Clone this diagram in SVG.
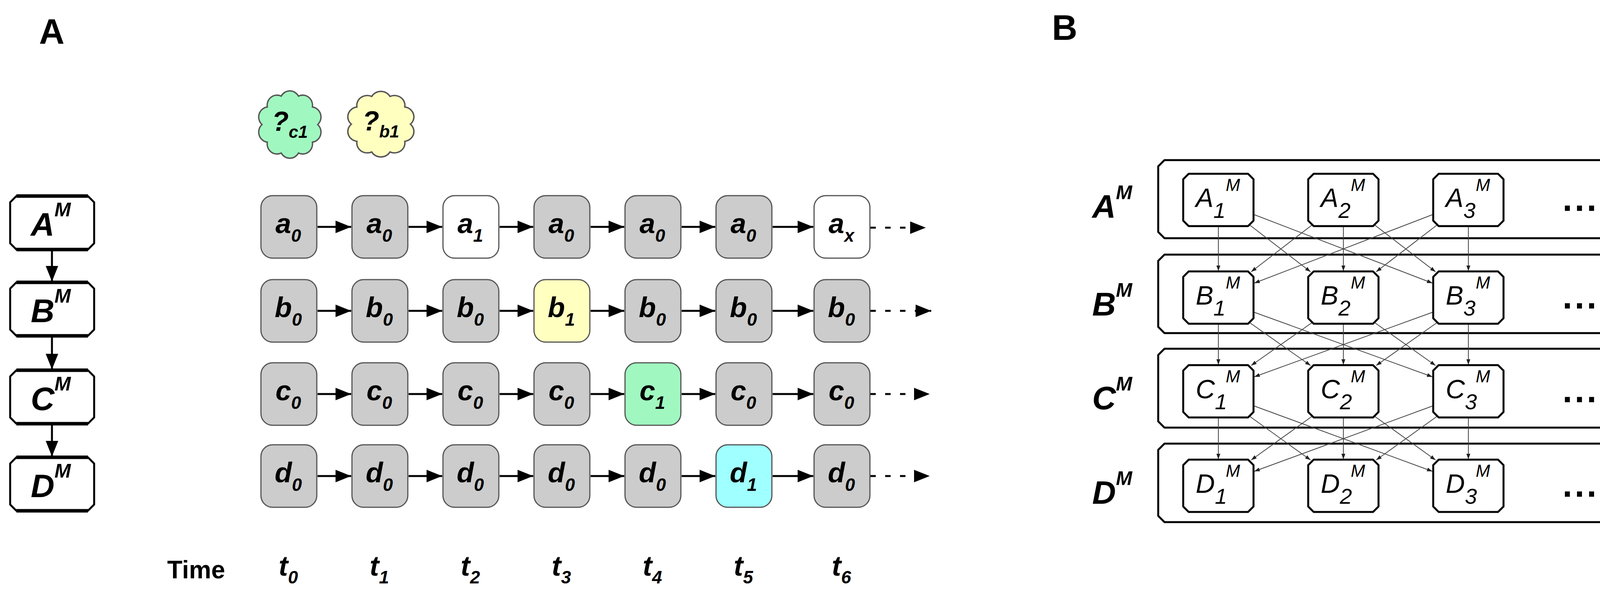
<svg xmlns="http://www.w3.org/2000/svg" width="4184" height="1539" viewBox="0 0 4184 1539">
<style>
.bi{font-family:"Liberation Sans",Arial,sans-serif;font-weight:bold;font-style:italic;fill:#000}
.b{font-family:"Liberation Sans",Arial,sans-serif;font-weight:bold;fill:#000}
.i{font-family:"Liberation Sans",Arial,sans-serif;font-style:italic;fill:#000}
.st{fill:#fff;stroke:#000;stroke-width:5;stroke-linejoin:round}
.nd{stroke:#555;stroke-width:3}
.g{fill:#cccccc}.w{fill:#ffffff}.y{fill:#ffffc0}.gr{fill:#a0f8c0}.cy{fill:#a0ffff}
.h{stroke:#000;stroke-width:5;fill:none;marker-end:url(#ah)}
.hd{stroke:#000;stroke-width:5;fill:none;stroke-dasharray:14 24;marker-end:url(#ah)}
.thin{stroke:#444;stroke-width:2;fill:none;marker-end:url(#as)}
</style>
<defs>
<marker id="ah" markerUnits="userSpaceOnUse" markerWidth="40" markerHeight="32" refX="40" refY="16" orient="auto"><path d="M0,0 L40,16 L0,32 Z" fill="#000"/></marker>
<marker id="as" markerUnits="userSpaceOnUse" markerWidth="14" markerHeight="10" refX="14" refY="5" orient="auto"><path d="M0,0 L14,5 L0,10 Z" fill="#222"/></marker>
<path id="cloud" d="M62,0 A22,22 0 0 1 50.2,38.2 A22,22 0 0 1 19.2,61.8 A22,22 0 0 1 -19.2,61.8 A22,22 0 0 1 -50.2,38.2 A22,22 0 0 1 -62,0 A22,22 0 0 1 -50.2,-38.2 A22,22 0 0 1 -19.2,-61.8 A22,22 0 0 1 19.2,-61.8 A22,22 0 0 1 50.2,-38.2 A22,22 0 0 1 62,0 Z"/>
</defs>

<text class="b" x="100" y="112" font-size="90">A</text>
<text class="b" x="2693" y="102" font-size="90">B</text>

<g id="AM"><path class="st" d="M42,502 H225 L241,518 V623 L225,639 H42 L26,623 V518 Z"/><path d="M42,502 H225 M42,639 H225" stroke="#000" stroke-width="9"/><text class="bi" x="130" y="604" font-size="84" text-anchor="middle">A<tspan font-size="50" dy="-50">M</tspan></text></g>
<g id="BM"><path class="st" d="M42,723 H225 L241,739 V844 L225,860 H42 L26,844 V739 Z"/><path d="M42,723 H225 M42,860 H225" stroke="#000" stroke-width="9"/><text class="bi" x="130" y="825" font-size="84" text-anchor="middle">B<tspan font-size="50" dy="-50">M</tspan></text></g>
<g id="CM"><path class="st" d="M42,948 H225 L241,964 V1069 L225,1085 H42 L26,1069 V964 Z"/><path d="M42,948 H225 M42,1085 H225" stroke="#000" stroke-width="9"/><text class="bi" x="130" y="1050" font-size="84" text-anchor="middle">C<tspan font-size="50" dy="-50">M</tspan></text></g>
<g id="DM"><path class="st" d="M42,1171 H225 L241,1187 V1292 L225,1308 H42 L26,1292 V1187 Z"/><path d="M42,1171 H225 M42,1308 H225" stroke="#000" stroke-width="9"/><text class="bi" x="130" y="1273" font-size="84" text-anchor="middle">D<tspan font-size="50" dy="-50">M</tspan></text></g>

<g id="cloud-c1"><use href="#cloud" transform="translate(742,319) scale(1.15,1.18)" fill="#a0f8c0" stroke="#555" stroke-width="3"/><text class="bi" x="742" y="335" font-size="70" text-anchor="middle">?<tspan font-size="44" dy="18">c1</tspan></text></g>
<g id="cloud-b1"><use href="#cloud" transform="translate(975,318) scale(1.22,1.15)" fill="#ffffc0" stroke="#555" stroke-width="3"/><text class="bi" x="975" y="334" font-size="70" text-anchor="middle">?<tspan font-size="44" dy="18">b1</tspan></text></g>

<g id="connectors-left">
<path class="h" d="M133,641 V721"/><path class="h" d="M133,862 V946"/><path class="h" d="M133,1087 V1169"/>
<path class="h" d="M813,581 H899"/><path class="h" d="M1046,581 H1132"/><path class="h" d="M1279,581 H1365"/><path class="h" d="M1512,581 H1598"/><path class="h" d="M1745,581 H1831"/><path class="h" d="M1978,581 H2082"/>
<path class="h" d="M813,796 H899"/><path class="h" d="M1046,796 H1132"/><path class="h" d="M1279,796 H1365"/><path class="h" d="M1512,796 H1598"/><path class="h" d="M1745,796 H1831"/><path class="h" d="M1978,796 H2082"/>
<path class="h" d="M813,1009 H899"/><path class="h" d="M1046,1009 H1132"/><path class="h" d="M1279,1009 H1365"/><path class="h" d="M1512,1009 H1598"/><path class="h" d="M1745,1009 H1831"/><path class="h" d="M1978,1009 H2082"/>
<path class="h" d="M813,1219 H899"/><path class="h" d="M1046,1219 H1132"/><path class="h" d="M1279,1219 H1365"/><path class="h" d="M1512,1219 H1598"/><path class="h" d="M1745,1219 H1831"/><path class="h" d="M1978,1219 H2082"/>
<path class="hd" d="M2228,583 H2370"/>
<path class="hd" d="M2228,796 H2384"/>
<path class="hd" d="M2228,1009 H2380"/>
<path class="hd" d="M2228,1219 H2380"/>
</g>

<g id="a-row">
<rect class="nd g" x="668" y="501" width="143" height="160" rx="30"/><text class="bi" x="738" y="597" font-size="72" text-anchor="middle">a<tspan font-size="46" dy="22">0</tspan></text>
<rect class="nd g" x="901" y="501" width="143" height="160" rx="30"/><text class="bi" x="971" y="597" font-size="72" text-anchor="middle">a<tspan font-size="46" dy="22">0</tspan></text>
<rect class="nd w" x="1134" y="501" width="143" height="160" rx="30"/><text class="bi" x="1204" y="597" font-size="72" text-anchor="middle">a<tspan font-size="46" dy="22">1</tspan></text>
<rect class="nd g" x="1367" y="501" width="143" height="160" rx="30"/><text class="bi" x="1437" y="597" font-size="72" text-anchor="middle">a<tspan font-size="46" dy="22">0</tspan></text>
<rect class="nd g" x="1600" y="501" width="143" height="160" rx="30"/><text class="bi" x="1670" y="597" font-size="72" text-anchor="middle">a<tspan font-size="46" dy="22">0</tspan></text>
<rect class="nd g" x="1833" y="501" width="143" height="160" rx="30"/><text class="bi" x="1903" y="597" font-size="72" text-anchor="middle">a<tspan font-size="46" dy="22">0</tspan></text>
<rect class="nd w" x="2084" y="501" width="143" height="160" rx="30"/><text class="bi" x="2154" y="597" font-size="72" text-anchor="middle">a<tspan font-size="46" dy="22">x</tspan></text>
</g>
<g id="b-row">
<rect class="nd g" x="668" y="716" width="143" height="160" rx="30"/><text class="bi" x="738" y="812" font-size="72" text-anchor="middle">b<tspan font-size="46" dy="22">0</tspan></text>
<rect class="nd g" x="901" y="716" width="143" height="160" rx="30"/><text class="bi" x="971" y="812" font-size="72" text-anchor="middle">b<tspan font-size="46" dy="22">0</tspan></text>
<rect class="nd g" x="1134" y="716" width="143" height="160" rx="30"/><text class="bi" x="1204" y="812" font-size="72" text-anchor="middle">b<tspan font-size="46" dy="22">0</tspan></text>
<rect class="nd y" x="1367" y="716" width="143" height="160" rx="30"/><text class="bi" x="1437" y="812" font-size="72" text-anchor="middle">b<tspan font-size="46" dy="22">1</tspan></text>
<rect class="nd g" x="1600" y="716" width="143" height="160" rx="30"/><text class="bi" x="1670" y="812" font-size="72" text-anchor="middle">b<tspan font-size="46" dy="22">0</tspan></text>
<rect class="nd g" x="1833" y="716" width="143" height="160" rx="30"/><text class="bi" x="1903" y="812" font-size="72" text-anchor="middle">b<tspan font-size="46" dy="22">0</tspan></text>
<rect class="nd g" x="2084" y="716" width="143" height="160" rx="30"/><text class="bi" x="2154" y="812" font-size="72" text-anchor="middle">b<tspan font-size="46" dy="22">0</tspan></text>
</g>
<g id="c-row">
<rect class="nd g" x="668" y="929" width="143" height="160" rx="30"/><text class="bi" x="738" y="1025" font-size="72" text-anchor="middle">c<tspan font-size="46" dy="22">0</tspan></text>
<rect class="nd g" x="901" y="929" width="143" height="160" rx="30"/><text class="bi" x="971" y="1025" font-size="72" text-anchor="middle">c<tspan font-size="46" dy="22">0</tspan></text>
<rect class="nd g" x="1134" y="929" width="143" height="160" rx="30"/><text class="bi" x="1204" y="1025" font-size="72" text-anchor="middle">c<tspan font-size="46" dy="22">0</tspan></text>
<rect class="nd g" x="1367" y="929" width="143" height="160" rx="30"/><text class="bi" x="1437" y="1025" font-size="72" text-anchor="middle">c<tspan font-size="46" dy="22">0</tspan></text>
<rect class="nd gr" x="1600" y="929" width="143" height="160" rx="30"/><text class="bi" x="1670" y="1025" font-size="72" text-anchor="middle">c<tspan font-size="46" dy="22">1</tspan></text>
<rect class="nd g" x="1833" y="929" width="143" height="160" rx="30"/><text class="bi" x="1903" y="1025" font-size="72" text-anchor="middle">c<tspan font-size="46" dy="22">0</tspan></text>
<rect class="nd g" x="2084" y="929" width="143" height="160" rx="30"/><text class="bi" x="2154" y="1025" font-size="72" text-anchor="middle">c<tspan font-size="46" dy="22">0</tspan></text>
</g>
<g id="d-row">
<rect class="nd g" x="668" y="1139" width="143" height="160" rx="30"/><text class="bi" x="738" y="1235" font-size="72" text-anchor="middle">d<tspan font-size="46" dy="22">0</tspan></text>
<rect class="nd g" x="901" y="1139" width="143" height="160" rx="30"/><text class="bi" x="971" y="1235" font-size="72" text-anchor="middle">d<tspan font-size="46" dy="22">0</tspan></text>
<rect class="nd g" x="1134" y="1139" width="143" height="160" rx="30"/><text class="bi" x="1204" y="1235" font-size="72" text-anchor="middle">d<tspan font-size="46" dy="22">0</tspan></text>
<rect class="nd g" x="1367" y="1139" width="143" height="160" rx="30"/><text class="bi" x="1437" y="1235" font-size="72" text-anchor="middle">d<tspan font-size="46" dy="22">0</tspan></text>
<rect class="nd g" x="1600" y="1139" width="143" height="160" rx="30"/><text class="bi" x="1670" y="1235" font-size="72" text-anchor="middle">d<tspan font-size="46" dy="22">0</tspan></text>
<rect class="nd cy" x="1833" y="1139" width="143" height="160" rx="30"/><text class="bi" x="1903" y="1235" font-size="72" text-anchor="middle">d<tspan font-size="46" dy="22">1</tspan></text>
<rect class="nd g" x="2084" y="1139" width="143" height="160" rx="30"/><text class="bi" x="2154" y="1235" font-size="72" text-anchor="middle">d<tspan font-size="46" dy="22">0</tspan></text>
</g>

<g id="time-axis">
<text class="b" x="428" y="1481" font-size="64">Time</text>
<text class="bi" x="738" y="1474" font-size="72" text-anchor="middle">t<tspan font-size="46" dy="20">0</tspan></text>
<text class="bi" x="971" y="1474" font-size="72" text-anchor="middle">t<tspan font-size="46" dy="20">1</tspan></text>
<text class="bi" x="1204" y="1474" font-size="72" text-anchor="middle">t<tspan font-size="46" dy="20">2</tspan></text>
<text class="bi" x="1437" y="1474" font-size="72" text-anchor="middle">t<tspan font-size="46" dy="20">3</tspan></text>
<text class="bi" x="1670" y="1474" font-size="72" text-anchor="middle">t<tspan font-size="46" dy="20">4</tspan></text>
<text class="bi" x="1903" y="1474" font-size="72" text-anchor="middle">t<tspan font-size="46" dy="20">5</tspan></text>
<text class="bi" x="2154" y="1474" font-size="72" text-anchor="middle">t<tspan font-size="46" dy="20">6</tspan></text>
</g>

<g id="row-labels">
<text class="bi" x="2796" y="558" font-size="84">A<tspan font-size="50" dy="-48">M</tspan></text>
<text class="bi" x="2796" y="808" font-size="84">B<tspan font-size="50" dy="-48">M</tspan></text>
<text class="bi" x="2796" y="1048" font-size="84">C<tspan font-size="50" dy="-48">M</tspan></text>
<text class="bi" x="2796" y="1290" font-size="84">D<tspan font-size="50" dy="-48">M</tspan></text>
</g>
<g id="layers">
<path class="st" d="M2981,410 H4142 L4158,426 V594 L4142,610 H2981 L2965,594 V426 Z"/>
<path class="st" d="M2981,652 H4142 L4158,668 V837 L4142,853 H2981 L2965,837 V668 Z"/>
<path class="st" d="M2981,893 H4142 L4158,909 V1079 L4142,1095 H2981 L2965,1079 V909 Z"/>
<path class="st" d="M2981,1136 H4142 L4158,1152 V1321 L4142,1337 H2981 L2965,1321 V1152 Z"/>
<g class="b" font-size="90" letter-spacing="6"><text x="4000" y="540">...</text><text x="4000" y="790">...</text><text x="4000" y="1030">...</text><text x="4000" y="1272">...</text></g>
</g>

<g id="connectors-right">
<path class="thin" d="M3119,579 V694"/><path class="thin" d="M3439,579 V694"/><path class="thin" d="M3759,579 V694"/>
<path class="thin" d="M3199,576 L3355,696"/><path class="thin" d="M3519,576 L3675,696"/><path class="thin" d="M3209,549 L3667,725"/>
<path class="thin" d="M3359,576 L3203,696"/><path class="thin" d="M3679,576 L3523,696"/><path class="thin" d="M3669,549 L3211,725"/>
<path class="thin" d="M3119,829 V934"/><path class="thin" d="M3439,829 V934"/><path class="thin" d="M3759,829 V934"/>
<path class="thin" d="M3199,826 L3355,936"/><path class="thin" d="M3519,826 L3675,936"/><path class="thin" d="M3209,799 L3667,965"/>
<path class="thin" d="M3359,826 L3203,936"/><path class="thin" d="M3679,826 L3523,936"/><path class="thin" d="M3669,799 L3211,965"/>
<path class="thin" d="M3119,1069 V1176"/><path class="thin" d="M3439,1069 V1176"/><path class="thin" d="M3759,1069 V1176"/>
<path class="thin" d="M3199,1066 L3355,1178"/><path class="thin" d="M3519,1066 L3675,1178"/><path class="thin" d="M3209,1039 L3667,1207"/>
<path class="thin" d="M3359,1066 L3203,1178"/><path class="thin" d="M3679,1066 L3523,1178"/><path class="thin" d="M3669,1039 L3211,1207"/>
</g>

<g id="inner-nodes">
<g id="A1"><path class="st" d="M3043,445 H3195 L3209,459 V565 L3195,579 H3043 L3029,565 V459 Z"/><text class="i" x="3061" y="530" font-size="68">A<tspan font-size="56" dy="28">1</tspan><tspan x="3138" y="489" font-size="44">M</tspan></text></g>
<g id="A2"><path class="st" d="M3363,445 H3515 L3529,459 V565 L3515,579 H3363 L3349,565 V459 Z"/><text class="i" x="3381" y="530" font-size="68">A<tspan font-size="56" dy="28">2</tspan><tspan x="3458" y="489" font-size="44">M</tspan></text></g>
<g id="A3"><path class="st" d="M3683,445 H3835 L3849,459 V565 L3835,579 H3683 L3669,565 V459 Z"/><text class="i" x="3701" y="530" font-size="68">A<tspan font-size="56" dy="28">3</tspan><tspan x="3778" y="489" font-size="44">M</tspan></text></g>
<g id="B1"><path class="st" d="M3043,695 H3195 L3209,709 V815 L3195,829 H3043 L3029,815 V709 Z"/><text class="i" x="3061" y="780" font-size="68">B<tspan font-size="56" dy="28">1</tspan><tspan x="3138" y="739" font-size="44">M</tspan></text></g>
<g id="B2"><path class="st" d="M3363,695 H3515 L3529,709 V815 L3515,829 H3363 L3349,815 V709 Z"/><text class="i" x="3381" y="780" font-size="68">B<tspan font-size="56" dy="28">2</tspan><tspan x="3458" y="739" font-size="44">M</tspan></text></g>
<g id="B3"><path class="st" d="M3683,695 H3835 L3849,709 V815 L3835,829 H3683 L3669,815 V709 Z"/><text class="i" x="3701" y="780" font-size="68">B<tspan font-size="56" dy="28">3</tspan><tspan x="3778" y="739" font-size="44">M</tspan></text></g>
<g id="C1"><path class="st" d="M3043,935 H3195 L3209,949 V1055 L3195,1069 H3043 L3029,1055 V949 Z"/><text class="i" x="3061" y="1020" font-size="68">C<tspan font-size="56" dy="28">1</tspan><tspan x="3138" y="979" font-size="44">M</tspan></text></g>
<g id="C2"><path class="st" d="M3363,935 H3515 L3529,949 V1055 L3515,1069 H3363 L3349,1055 V949 Z"/><text class="i" x="3381" y="1020" font-size="68">C<tspan font-size="56" dy="28">2</tspan><tspan x="3458" y="979" font-size="44">M</tspan></text></g>
<g id="C3"><path class="st" d="M3683,935 H3835 L3849,949 V1055 L3835,1069 H3683 L3669,1055 V949 Z"/><text class="i" x="3701" y="1020" font-size="68">C<tspan font-size="56" dy="28">3</tspan><tspan x="3778" y="979" font-size="44">M</tspan></text></g>
<g id="D1"><path class="st" d="M3043,1177 H3195 L3209,1191 V1297 L3195,1311 H3043 L3029,1297 V1191 Z"/><text class="i" x="3061" y="1262" font-size="68">D<tspan font-size="56" dy="28">1</tspan><tspan x="3138" y="1221" font-size="44">M</tspan></text></g>
<g id="D2"><path class="st" d="M3363,1177 H3515 L3529,1191 V1297 L3515,1311 H3363 L3349,1297 V1191 Z"/><text class="i" x="3381" y="1262" font-size="68">D<tspan font-size="56" dy="28">2</tspan><tspan x="3458" y="1221" font-size="44">M</tspan></text></g>
<g id="D3"><path class="st" d="M3683,1177 H3835 L3849,1191 V1297 L3835,1311 H3683 L3669,1297 V1191 Z"/><text class="i" x="3701" y="1262" font-size="68">D<tspan font-size="56" dy="28">3</tspan><tspan x="3778" y="1221" font-size="44">M</tspan></text></g>
</g>
</svg>
